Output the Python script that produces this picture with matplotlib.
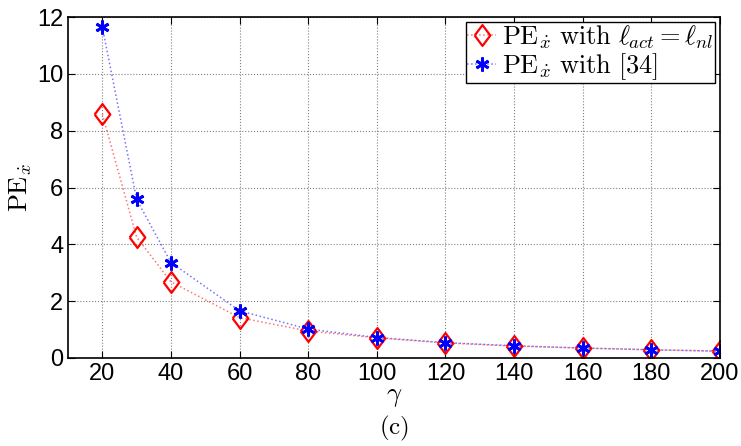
import matplotlib
matplotlib.use("Agg")
import matplotlib.pyplot as plt

plt.rcParams['mathtext.fontset'] = 'cm'
plt.rcParams['font.family'] = ['Liberation Sans', 'DejaVu Sans']

gamma = [20, 30, 40, 60, 80, 100, 120, 140, 160, 180, 200]
pe_nl = [8.58, 4.25, 2.68, 1.42, 0.95, 0.71, 0.53, 0.42, 0.35, 0.29, 0.24]
pe_ref = [11.65, 5.58, 3.36, 1.66, 1.02, 0.72, 0.54, 0.43, 0.35, 0.29, 0.24]

# MATLAB-style diamond: a bit taller than wide
diamond = [(-0.75, 0), (0, 1), (0.75, 0), (0, -1), (-0.75, 0)]

fig = plt.figure(figsize=(7.41, 4.46), dpi=100)
ax = fig.add_axes([68/741, 1-358/446, (720-68)/741, (358-17)/446])

ax.plot(gamma, pe_nl, ':', color=(1, 0, 0, 0.55), lw=1.1, marker=diamond, ms=15,
        mfc='none', mec='red', mew=1.6,
        label=r'$\mathrm{PE}_{\dot{x}}\ \mathrm{with}\ \ell_{act}=\ell_{nl}$')
ax.plot(gamma, pe_ref, ':', color=(0, 0, 1, 0.55), lw=1.1, marker=(6, 2, 0), ms=10,
        mec='blue', mew=2.0,
        label=r'$\mathrm{PE}_{\dot{x}}\ \mathrm{with}\ [34]$')

ax.set_xlim(10, 200)
ax.set_ylim(0, 12)
ax.set_xticks(range(20, 201, 20))
ax.set_yticks(range(0, 13, 2))
ax.tick_params(direction='in', top=True, right=True, labelsize=17, length=5)
ax.grid(True, linestyle=':', color='gray', lw=0.8)
for s in ax.spines.values():
    s.set_linewidth(1.2)

ax.set_xlabel(r'$\gamma$', fontsize=19, labelpad=0)
ax.set_ylabel(r'$\mathrm{PE}_{\dot{x}}$', fontsize=19, labelpad=2)
fig.text(394/741, 1-428/446, r'$\mathrm{(c)}$', fontsize=18, ha='center', va='center')

leg = ax.legend(loc='upper right', fontsize=19, handlelength=1.1, handletextpad=0.2,
                borderpad=0.05, labelspacing=0.0, fancybox=False, framealpha=1,
                borderaxespad=0.2)
leg.get_frame().set_edgecolor('black')
leg.get_frame().set_linewidth(1)

fig.savefig('out.png', dpi=100)
